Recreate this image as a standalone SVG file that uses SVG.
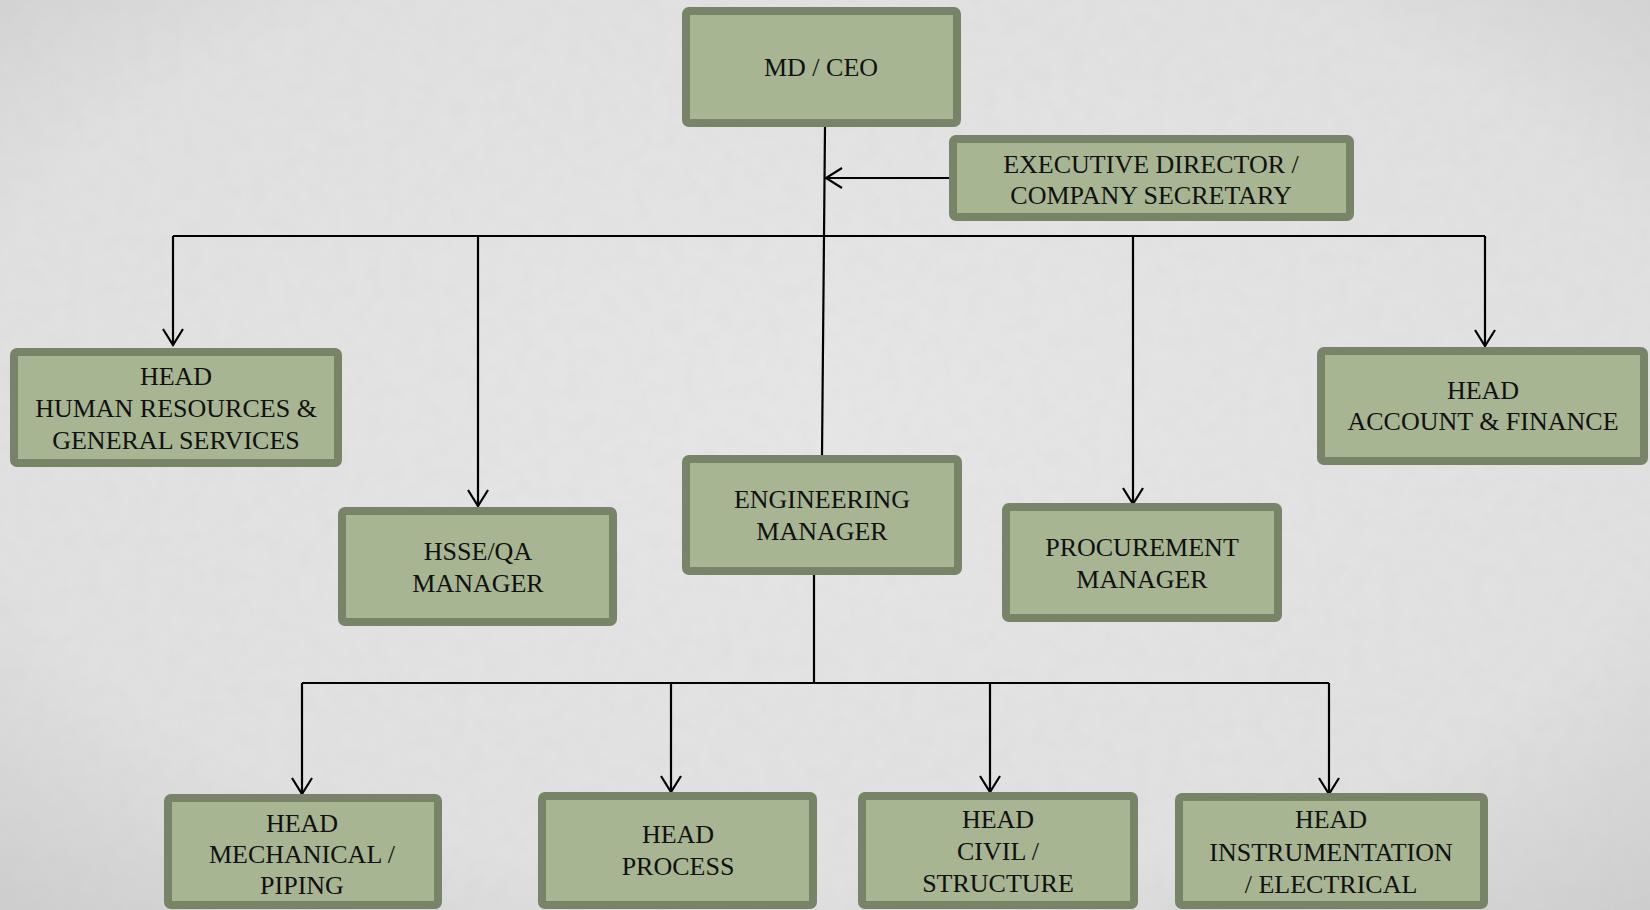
<svg xmlns="http://www.w3.org/2000/svg" width="1650" height="910" viewBox="0 0 1650 910">
  <defs>
    <radialGradient id="bg" cx="50%" cy="45%" r="75%">
      <stop offset="0" stop-color="#e6e6e6"/>
      <stop offset="0.7" stop-color="#e0e0e0"/>
      <stop offset="1" stop-color="#cdcdcd"/>
    </radialGradient>
    <filter id="noise" x="0" y="0" width="100%" height="100%">
      <feTurbulence type="fractalNoise" baseFrequency="0.06" numOctaves="3" seed="4"/>
      <feColorMatrix type="matrix" values="0 0 0 0 0.5  0 0 0 0 0.5  0 0 0 0 0.5  0 0 0 -1.2 0.75"/>
    </filter>
    <marker id="arr" markerUnits="userSpaceOnUse" viewBox="-18 -12 20 24" refX="0" refY="0" markerWidth="20" markerHeight="24" orient="auto">
      <path d="M-16,-10 L0,0 L-16,10" fill="none" stroke="#000" stroke-width="2.2"/>
    </marker>
    <style>
      .box { fill: #a7b592; stroke: #788468; stroke-width: 8; }
      .lbl { font-family: "Liberation Serif", "Times New Roman", serif; font-size: 26px; fill: #111; text-anchor: middle; }
      .con { fill: none; stroke: #000; stroke-width: 2.2; }
    </style>
  </defs>

  <rect x="0" y="0" width="1650" height="910" fill="url(#bg)"/>
  <rect x="0" y="0" width="1650" height="910" filter="url(#noise)" opacity="0.12"/>

  <g id="connectors">
    <path class="con" d="M825,127 L822,456"/>
    <path class="con" d="M949,178 L826,178" marker-end="url(#arr)"/>
    <path class="con" d="M173,236 L1485,236"/>
    <path class="con" d="M173,236 L173,345" marker-end="url(#arr)"/>
    <path class="con" d="M478,236 L478,506" marker-end="url(#arr)"/>
    <path class="con" d="M1133,236 L1133,504" marker-end="url(#arr)"/>
    <path class="con" d="M1485,236 L1485,346" marker-end="url(#arr)"/>
    <path class="con" d="M814,575 L814,683"/>
    <path class="con" d="M302,683 L1329,683"/>
    <path class="con" d="M302,683 L302,794" marker-end="url(#arr)"/>
    <path class="con" d="M671,683 L671,792" marker-end="url(#arr)"/>
    <path class="con" d="M990,683 L990,792" marker-end="url(#arr)"/>
    <path class="con" d="M1329,683 L1329,794" marker-end="url(#arr)"/>
  </g>

  <g id="md-ceo">
    <rect class="box" x="686" y="11" width="271" height="112" rx="3"/>
    <text class="lbl" x="821" y="76">MD / CEO</text>
  </g>
  <g id="exec-director">
    <rect class="box" x="953" y="139" width="397" height="78" rx="3"/>
    <text class="lbl" x="1151" y="173">EXECUTIVE DIRECTOR /</text>
    <text class="lbl" x="1151" y="204">COMPANY SECRETARY</text>
  </g>
  <g id="head-hr">
    <rect class="box" x="14" y="352" width="324" height="111" rx="3"/>
    <text class="lbl" x="176" y="385">HEAD</text>
    <text class="lbl" x="176" y="417">HUMAN RESOURCES &amp;</text>
    <text class="lbl" x="176" y="449">GENERAL SERVICES</text>
  </g>
  <g id="hsse-manager">
    <rect class="box" x="342" y="511" width="271" height="111" rx="3"/>
    <text class="lbl" x="478" y="560">HSSE/QA</text>
    <text class="lbl" x="478" y="592">MANAGER</text>
  </g>
  <g id="engineering-manager">
    <rect class="box" x="686" y="459" width="272" height="112" rx="3"/>
    <text class="lbl" x="822" y="508">ENGINEERING</text>
    <text class="lbl" x="822" y="540">MANAGER</text>
  </g>
  <g id="procurement-manager">
    <rect class="box" x="1006" y="507" width="272" height="111" rx="3"/>
    <text class="lbl" x="1142" y="556">PROCUREMENT</text>
    <text class="lbl" x="1142" y="588">MANAGER</text>
  </g>
  <g id="head-account">
    <rect class="box" x="1321" y="351" width="323" height="110" rx="3"/>
    <text class="lbl" x="1483" y="399">HEAD</text>
    <text class="lbl" x="1483" y="430">ACCOUNT &amp; FINANCE</text>
  </g>
  <g id="head-mechanical">
    <rect class="box" x="168" y="798" width="270" height="107" rx="3"/>
    <text class="lbl" x="302" y="832">HEAD</text>
    <text class="lbl" x="302" y="863">MECHANICAL /</text>
    <text class="lbl" x="302" y="894">PIPING</text>
  </g>
  <g id="head-process">
    <rect class="box" x="542" y="796" width="271" height="109" rx="3"/>
    <text class="lbl" x="678" y="843">HEAD</text>
    <text class="lbl" x="678" y="875">PROCESS</text>
  </g>
  <g id="head-civil">
    <rect class="box" x="862" y="796" width="272" height="109" rx="3"/>
    <text class="lbl" x="998" y="828">HEAD</text>
    <text class="lbl" x="998" y="860">CIVIL /</text>
    <text class="lbl" x="998" y="892">STRUCTURE</text>
  </g>
  <g id="head-instrumentation">
    <rect class="box" x="1179" y="797" width="305" height="108" rx="3"/>
    <text class="lbl" x="1331" y="828">HEAD</text>
    <text class="lbl" x="1331" y="861">INSTRUMENTATION</text>
    <text class="lbl" x="1331" y="893">/ ELECTRICAL</text>
  </g>
</svg>
